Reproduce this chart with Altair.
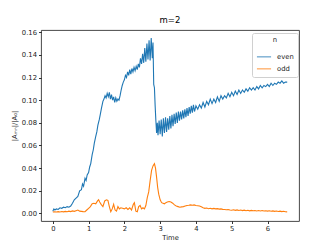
import altair as alt
import pandas as pd

even_t = [0.00, 0.03, 0.06, 0.10, 0.15, 0.20, 0.25, 0.30, 0.35, 0.40, 0.45, 0.50, 0.55, 0.60, 0.65, 0.70,
          0.75, 0.80, 0.83, 0.86, 0.90, 0.93, 0.96, 1.00, 1.03, 1.06, 1.10, 1.13, 1.16, 1.20, 1.23, 1.26,
          1.30, 1.33, 1.36, 1.40, 1.43, 1.46, 1.49, 1.52, 1.55, 1.58, 1.61, 1.64, 1.67, 1.70, 1.73, 1.76,
          1.79, 1.82, 1.85, 1.88, 1.91, 1.94, 1.97, 2.00, 2.03, 2.06, 2.09, 2.12, 2.15, 2.18, 2.21, 2.24,
          2.27, 2.30, 2.33, 2.36, 2.39, 2.42, 2.45, 2.48, 2.51, 2.54, 2.57, 2.60, 2.63, 2.66, 2.69, 2.72,
          2.75, 2.78, 2.80, 2.82, 2.84, 2.86, 2.88, 2.90, 2.92, 2.94, 2.97, 3.00, 3.03, 3.06, 3.09, 3.12,
          3.15, 3.18, 3.21, 3.24, 3.27, 3.30, 3.33, 3.36, 3.39, 3.42, 3.45, 3.48, 3.51, 3.54, 3.57, 3.60,
          3.63, 3.66, 3.69, 3.72, 3.75, 3.78, 3.81, 3.84, 3.87, 3.90, 3.93, 3.96, 4.00, 4.05, 4.10, 4.15,
          4.20, 4.25, 4.30, 4.35, 4.40, 4.45, 4.50, 4.55, 4.60, 4.65, 4.70, 4.75, 4.80, 4.85, 4.90, 4.95,
          5.00, 5.05, 5.10, 5.15, 5.20, 5.25, 5.30, 5.35, 5.40, 5.45, 5.50, 5.55, 5.60, 5.65, 5.70, 5.75,
          5.80, 5.85, 5.90, 5.95, 6.00, 6.05, 6.10, 6.15, 6.20, 6.25, 6.30, 6.35, 6.40, 6.45, 6.50, 6.55]
even_v = [0.002, 0.004, 0.003, 0.004, 0.0035, 0.005, 0.0045, 0.0055, 0.005, 0.006, 0.0055, 0.0065, 0.009, 0.012, 0.0135, 0.015,
          0.020, 0.021, 0.026, 0.024, 0.031, 0.029, 0.034, 0.036, 0.041, 0.044, 0.052, 0.056, 0.062, 0.068, 0.072, 0.078,
          0.083, 0.088, 0.093, 0.099, 0.101, 0.104, 0.102, 0.106, 0.103, 0.107, 0.101, 0.105, 0.100, 0.103, 0.098, 0.102,
          0.099, 0.101, 0.100, 0.104, 0.109, 0.113, 0.116, 0.118, 0.122, 0.120, 0.125, 0.122, 0.127, 0.123, 0.128, 0.125,
          0.129, 0.126, 0.130, 0.127, 0.132, 0.129, 0.137, 0.132, 0.141, 0.133, 0.146, 0.134, 0.150, 0.136, 0.153, 0.135,
          0.155, 0.137, 0.151, 0.114, 0.111, 0.095, 0.082, 0.071, 0.080, 0.069, 0.082, 0.070, 0.083, 0.068, 0.084, 0.071,
          0.085, 0.072, 0.084, 0.074, 0.086, 0.075, 0.087, 0.077, 0.088, 0.079, 0.089, 0.080, 0.090, 0.082, 0.090, 0.083,
          0.091, 0.084, 0.092, 0.085, 0.093, 0.086, 0.094, 0.088, 0.095, 0.089, 0.096, 0.090, 0.095, 0.092, 0.096, 0.093,
          0.098, 0.094, 0.099, 0.096, 0.101, 0.097, 0.101, 0.098, 0.103, 0.099, 0.104, 0.101, 0.104, 0.102, 0.106, 0.103,
          0.107, 0.104, 0.108, 0.105, 0.109, 0.106, 0.109, 0.107, 0.110, 0.108, 0.111, 0.109, 0.111, 0.109, 0.112, 0.110,
          0.113, 0.111, 0.113, 0.112, 0.114, 0.112, 0.115, 0.113, 0.115, 0.114, 0.116, 0.115, 0.117, 0.115, 0.116, 0.116]

odd_t = [0.00, 0.05, 0.10, 0.15, 0.20, 0.25, 0.30, 0.35, 0.40, 0.45, 0.50, 0.55, 0.60, 0.65, 0.70, 0.75,
         0.80, 0.85, 0.90, 0.95, 1.00, 1.05, 1.10, 1.15, 1.20, 1.25, 1.28, 1.31, 1.35, 1.40, 1.45, 1.50,
         1.54, 1.58, 1.62, 1.66, 1.70, 1.74, 1.78, 1.82, 1.86, 1.90, 1.95, 2.00, 2.05, 2.10, 2.15, 2.20,
         2.25, 2.28, 2.32, 2.36, 2.40, 2.44, 2.48, 2.52, 2.56, 2.60, 2.64, 2.68, 2.72, 2.76, 2.80, 2.84,
         2.87, 2.90, 2.93, 2.96, 3.00, 3.04, 3.08, 3.12, 3.16, 3.20, 3.25, 3.30, 3.35, 3.40, 3.45, 3.50,
         3.55, 3.60, 3.65, 3.70, 3.75, 3.80, 3.85, 3.90, 3.95, 4.00, 4.05, 4.10, 4.15, 4.20, 4.25, 4.30,
         4.35, 4.40, 4.45, 4.50, 4.55, 4.60, 4.65, 4.70, 4.75, 4.80, 4.85, 4.90, 4.95, 5.00, 5.05, 5.10,
         5.15, 5.20, 5.25, 5.30, 5.35, 5.40, 5.45, 5.50, 5.55, 5.60, 5.65, 5.70, 5.75, 5.80, 5.85, 5.90,
         5.95, 6.00, 6.05, 6.10, 6.15, 6.20, 6.25, 6.30, 6.35, 6.40, 6.45, 6.50, 6.55]
odd_v = [0.0012, 0.0015, 0.0012, 0.0016, 0.0013, 0.0017, 0.0014, 0.0018, 0.0015, 0.0020, 0.0016, 0.0022, 0.0018, 0.0024, 0.0030, 0.0020,
         0.0018, 0.0016, 0.0015, 0.0030, 0.0045, 0.0060, 0.0085, 0.0090, 0.0085, 0.0110, 0.0120, 0.0100, 0.0080, 0.0060, 0.0110, 0.0120,
         0.0115, 0.0060, 0.0015, 0.0040, 0.0080, 0.0030, 0.0020, 0.0060, 0.0040, 0.0050, 0.0045, 0.0040, 0.0050, 0.0035, 0.0050, 0.0030,
         0.0080, 0.0095, 0.0020, 0.0015, 0.0060, 0.0070, 0.0040, 0.0050, 0.0040, 0.0070, 0.0140, 0.0190, 0.0290, 0.0380, 0.0420, 0.0440,
         0.0400, 0.0320, 0.0230, 0.0170, 0.0120, 0.0095, 0.0090, 0.0085, 0.0095, 0.0100, 0.0105, 0.0100, 0.0090, 0.0075, 0.0065, 0.0060,
         0.0055, 0.0058, 0.0060, 0.0065, 0.0070, 0.0072, 0.0075, 0.0072, 0.0075, 0.0070, 0.0068, 0.0065, 0.0058, 0.0050, 0.0045, 0.0048,
         0.0042, 0.0046, 0.0040, 0.0044, 0.0040, 0.0042, 0.0038, 0.0040, 0.0036, 0.0035, 0.0032, 0.0034, 0.0030, 0.0028, 0.0032, 0.0027,
         0.0031, 0.0026, 0.0030, 0.0025, 0.0029, 0.0024, 0.0028, 0.0023, 0.0027, 0.0023, 0.0026, 0.0022, 0.0026, 0.0021, 0.0025, 0.0021,
         0.0024, 0.0020, 0.0023, 0.0019, 0.0022, 0.0018, 0.0021, 0.0017, 0.0020, 0.0016, 0.0019, 0.0015, 0.0014]

series_names = ["even", "odd"]
series_colors = ["#1f77b4", "#ff7f0e"]
x_ticks = [0, 1, 2, 3, 4, 5, 6]
y_ticks = [0.00, 0.02, 0.04, 0.06, 0.08, 0.10, 0.12, 0.14, 0.16]

df = pd.concat([
    pd.DataFrame({"Time": even_t, "val": even_v, "n": "even"}),
    pd.DataFrame({"Time": odd_t, "val": odd_v, "n": "odd"}),
], ignore_index=True)

FONT = "DejaVu Sans"

chart = alt.Chart(df).mark_line(strokeWidth=1.1, clip=True).encode(
    x=alt.X("Time:Q", scale=alt.Scale(domain=[-0.33, 6.88], nice=False, zero=False),
            axis=alt.Axis(values=x_ticks, format="d", title="Time")),
    y=alt.Y("val:Q", scale=alt.Scale(domain=[-0.0067, 0.162], nice=False, zero=False),
            axis=alt.Axis(values=y_ticks, format=".2f", title="|Aₘₙ|/|A₀|")),
    color=alt.Color("n:N", scale=alt.Scale(domain=series_names, range=series_colors),
                    legend=alt.Legend(title="n", orient="none", legendX=211, legendY=3,
                                      titleAnchor="middle", symbolType="stroke",
                                      symbolSize=200, symbolStrokeWidth=1.5, symbolOpacity=0.55,
                                      rowPadding=-3, fillColor="white", strokeColor="#d0d0d0",
                                      cornerRadius=2, padding=4, labelOffset=5)),
).properties(
    width=258, height=191,
    title=alt.TitleParams("m=2", fontSize=8.5, font=FONT, fontWeight="normal", offset=5,
                          anchor="middle", color="#000"),
    autosize=alt.AutoSizeParams(type="none"),
    padding={"left": 33, "top": 22, "right": 20, "bottom": 20},
).configure_view(
    stroke="#333", strokeWidth=0.9
).configure_axis(
    grid=False, domain=False, ticks=True, tickSize=2.5, tickColor="#000", tickWidth=0.8,
    labelFont=FONT, labelFontSize=6.8, labelColor="#222", labelPadding=2,
    titleFont=FONT, titleFontSize=6.8, titleFontWeight="normal", titleColor="#222",
).configure_axisY(
    titlePadding=4
).configure_axisX(
    titlePadding=2
).configure_legend(
    labelFont=FONT, labelFontSize=6.8, labelColor="#222",
    titleFont=FONT, titleFontSize=6.8, titleFontWeight="normal", titleColor="#222",
)

chart.save("out.html", embed_options={"renderer": "svg", "actions": False})
